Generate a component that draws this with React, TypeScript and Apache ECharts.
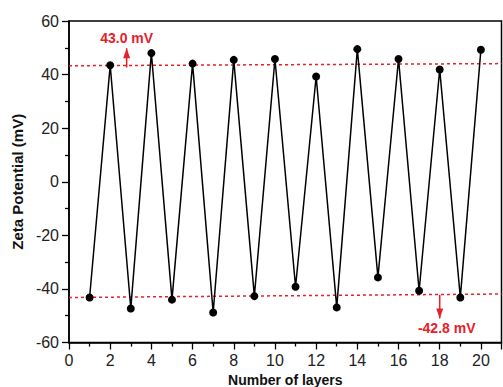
import React, { useEffect, useRef } from "react";
import * as echarts from "echarts";

const layers = [1, 2, 3, 4, 5, 6, 7, 8, 9, 10, 11, 12, 13, 14, 15, 16, 17, 18, 19, 20];
const zeta = [-43.2, 43.5, -47.3, 48.0, -44.0, 44.1, -48.8, 45.5, -42.7, 45.8, -39.2, 39.3, -46.9, 49.5, -35.7, 45.8, -40.7, 41.9, -43.2, 49.3];
const upperFitX = [0, 21];
const upperFitY = [43.3, 44.1];
const lowerFitX = [0, 21];
const lowerFitY = [-43.2, -41.9];
const upperArrowX = [2.8, 2.8];
const upperArrowY = [42.6, 49.8];
const lowerArrowX = [18, 18];
const lowerArrowY = [-42.2, -51.0];
const upperLabel = "43.0 mV";
const lowerLabel = "-42.8 mV";
const xTitle = "Number of layers";
const yTitle = "Zeta Potential (mV)";

const RED = "#e8202a";
const FONT = "Liberation Sans, Arial, sans-serif";

export default function App() {
  const ref = useRef<HTMLDivElement>(null);
  useEffect(() => {
    if (!ref.current) return;
    const chart = echarts.init(ref.current, null, { renderer: "svg" });
    const axisCommon = {
      axisLine: { show: true, onZero: false, lineStyle: { color: "#000", width: 1.5 } },
      axisTick: { show: true, inside: false, length: 7, lineStyle: { color: "#000", width: 1.3 } },
      minorTick: { show: true, splitNumber: 2, length: 4, lineStyle: { color: "#000", width: 1.3 } },
      splitLine: { show: false },
    };
    const nameStyle = { fontFamily: FONT, fontWeight: "bold" as const, fontSize: 14, color: "#111" };
    chart.setOption({
      animation: false,
      grid: { left: 69, top: 21, right: 1.5, bottom: 44.5, show: true, borderColor: "#000", borderWidth: 1.5, containLabel: false, outerBoundsMode: "none" },
      xAxis: {
        type: "value",
        min: 0,
        max: 21,
        interval: 2,
        ...axisCommon,
        axisLabel: { fontFamily: FONT, fontSize: 16, color: "#222", margin: 10, showMaxLabel: false, formatter: (v: number) => (v === 21 ? "" : String(v)) },
        name: xTitle,
        nameLocation: "middle",
        nameGap: 25,
        nameTextStyle: nameStyle,
      },
      yAxis: {
        type: "value",
        min: -60,
        max: 60,
        interval: 20,
        ...axisCommon,
        axisLabel: { fontFamily: FONT, fontSize: 16, color: "#222", margin: 10 },
        name: yTitle,
        nameLocation: "middle",
        nameGap: 39,
        nameTextStyle: { ...nameStyle, fontSize: 15 },
      },
      series: [
        {
          type: "line",
          data: upperFitX.map((x, i) => [x, upperFitY[i]]),
          symbol: "none",
          lineStyle: { color: RED, width: 1.5, type: [3, 3] },
          z: 3,
        },
        {
          type: "line",
          data: lowerFitX.map((x, i) => [x, lowerFitY[i]]),
          symbol: "none",
          lineStyle: { color: RED, width: 1.5, type: [3, 3] },
          z: 3,
        },
        {
          type: "line",
          data: layers.map((x, i) => [x, zeta[i]]),
          symbol: "circle",
          symbolSize: 8,
          itemStyle: { color: "#000" },
          lineStyle: { color: "#000", width: 1.5 },
          z: 4,
        },
        {
          type: "line",
          data: [
            { value: [upperArrowX[0], upperArrowY[0]], symbol: "none" },
            {
              value: [upperArrowX[1], upperArrowY[1]],
              symbol: "triangle",
              symbolSize: [7, 10],
              symbolOffset: [0, 5],
              label: { show: true, formatter: upperLabel, position: "top", distance: 3, color: RED, fontFamily: FONT, fontWeight: "bold", fontSize: 14 },
            },
          ],
          itemStyle: { color: RED },
          lineStyle: { color: RED, width: 1.5 },
          z: 5,
        },
        {
          type: "line",
          data: [
            { value: [lowerArrowX[0], lowerArrowY[0]], symbol: "none" },
            {
              value: [lowerArrowX[1], lowerArrowY[1]],
              symbol: "triangle",
              symbolSize: [7, 10],
              symbolRotate: 180,
              symbolOffset: [0, -5],
              label: { show: true, formatter: lowerLabel, position: "bottom", distance: 3, offset: [7, 0], color: RED, fontFamily: FONT, fontWeight: "bold", fontSize: 14 },
            },
          ],
          itemStyle: { color: RED },
          lineStyle: { color: RED, width: 1.5 },
          z: 5,
        },
      ],
    });
    return () => chart.dispose();
  }, []);
  return <div ref={ref} style={{ width: 503, height: 387, position: "absolute", left: 0, top: 0, background: "#fff" }} />;
}
